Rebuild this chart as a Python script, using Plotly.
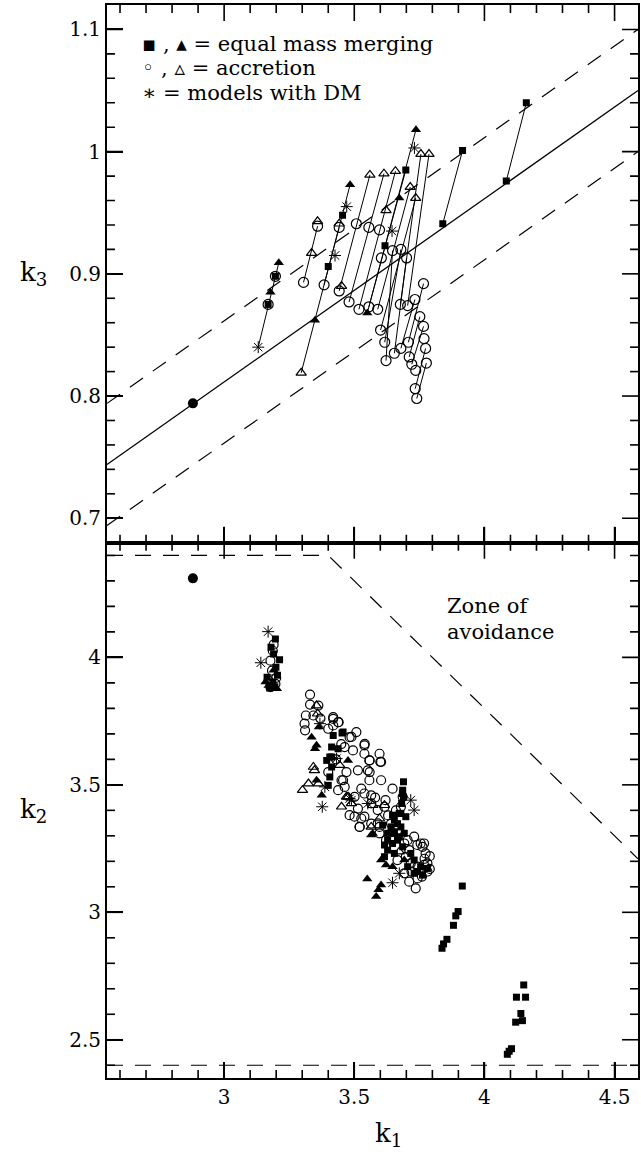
import plotly.graph_objects as go

# ---------------- axis ranges and ticks ----------------
k1_range = [2.55, 4.59]
k3_range = [0.68, 1.12]
k2_range = [2.35, 4.45]

k1_major = [3.0, 3.5, 4.0, 4.5]
k3_major = [0.7, 0.8, 0.9, 1.0, 1.1]
k2_major = [2.5, 3.0, 3.5, 4.0]
k1_minor_step, k3_minor_step, k2_minor_step = 0.1, 0.02, 0.1

# ---------------- top panel (k1 vs k3) ----------------
top_sq_k1 = [3.455, 3.400, 3.698, 3.618, 3.840, 3.916, 4.084, 4.161, 3.169, 3.197]
top_sq_k3 = [0.948, 0.906, 0.985, 0.923, 0.941, 1.001, 0.976, 1.040, 0.875, 0.898]

top_trif_k1 = [3.210, 3.178, 3.484, 3.349, 3.550, 3.673, 3.737]
top_trif_k3 = [0.909, 0.885, 0.973, 0.862, 0.868, 0.962, 1.018]

top_trio_k1 = [3.359, 3.336, 3.442, 3.451, 3.296, 3.560, 3.614, 3.658, 3.622, 3.715, 3.736, 3.756, 3.787]
top_trio_k3 = [0.943, 0.917, 0.941, 0.890, 0.819, 0.981, 0.982, 0.984, 0.952, 0.971, 0.962, 0.998, 0.998]

top_circ_k1 = [3.359, 3.442, 3.508, 3.556, 3.597, 3.305, 3.384, 3.442, 3.480, 3.518,
               3.556, 3.590, 3.647, 3.679, 3.701, 3.604, 3.766, 3.733, 3.705, 3.677,
               3.601, 3.752, 3.766, 3.768, 3.774, 3.777, 3.708, 3.679, 3.654, 3.617,
               3.622, 3.711, 3.721, 3.736, 3.734, 3.740, 3.169, 3.197]
top_circ_k3 = [0.939, 0.938, 0.941, 0.938, 0.936, 0.893, 0.891, 0.886, 0.877, 0.871,
               0.873, 0.871, 0.919, 0.920, 0.913, 0.913, 0.892, 0.879, 0.874, 0.875,
               0.854, 0.865, 0.857, 0.847, 0.839, 0.827, 0.844, 0.839, 0.835, 0.844,
               0.829, 0.832, 0.826, 0.821, 0.806, 0.798, 0.875, 0.898]

top_star_k1 = [3.131, 3.471, 3.426, 3.645, 3.731]
top_star_k3 = [0.840, 0.955, 0.915, 0.935, 1.003]

top_dot_k1 = [2.880]
top_dot_k3 = [0.794]

# connecting segments (start -> end)
seg_k1_a = [3.131, 3.305, 3.296, 3.384, 3.442, 3.480, 3.518, 3.556, 3.550, 3.840, 4.084,
            3.590, 3.601, 3.617, 3.654, 3.622, 3.679, 3.708, 3.711, 3.721, 3.734, 3.740,
            3.677, 3.705]
seg_k3_a = [0.840, 0.893, 0.819, 0.891, 0.886, 0.877, 0.871, 0.873, 0.868, 0.941, 0.976,
            0.871, 0.854, 0.844, 0.835, 0.829, 0.839, 0.844, 0.832, 0.826, 0.806, 0.798,
            0.875, 0.874]
seg_k1_b = [3.210, 3.359, 3.484, 3.442, 3.560, 3.614, 3.658, 3.698, 3.737, 3.916, 4.161,
            3.715, 3.736, 3.679, 3.701, 3.647, 3.733, 3.766, 3.752, 3.766, 3.774, 3.777,
            3.756, 3.787]
seg_k3_b = [0.909, 0.939, 0.973, 0.938, 0.981, 0.982, 0.984, 0.985, 1.018, 1.001, 1.040,
            0.971, 0.962, 0.920, 0.913, 0.919, 0.879, 0.892, 0.865, 0.857, 0.839, 0.827,
            0.998, 0.998]

# relation k3 = slope*k1 + icpt, with +/- band
fit_slope = 0.15
fit_icpt = 0.3615
fit_band = 0.05

# ---------------- bottom panel (k1 vs k2) ----------------
bot_dot_k1 = [2.880]
bot_dot_k2 = [4.310]

bot_sq_k1 = [3.197, 3.213, 3.190, 3.199, 3.165, 3.187, 3.180, 3.205, 3.175, 3.195,
             3.419, 3.453, 3.413, 3.438, 3.406, 3.413, 3.406, 3.400, 3.394, 3.457, 3.413,
             3.689, 3.685, 3.682, 3.679, 3.666, 3.654, 3.628, 3.666,
             3.686, 3.689, 3.673, 3.654, 3.641, 3.628, 3.654, 3.679, 3.673, 3.647,
             3.628, 3.616, 3.654, 3.686, 3.717, 3.730, 3.755, 3.730, 3.762, 3.705,
             3.781, 3.743, 3.609, 3.647, 3.616, 3.692, 3.698,
             3.915, 3.899, 3.890, 3.881, 3.856, 3.843, 3.837,
             4.151, 4.123, 4.158, 4.140, 4.120, 4.146, 4.104, 4.088, 4.095]
bot_sq_k2 = [4.072, 3.991, 4.013, 3.961, 3.922, 3.903, 4.040, 3.930, 3.880, 3.885,
             3.694, 3.703, 3.648, 3.642, 3.609, 3.570, 3.531, 3.498, 3.596, 3.707, 3.609,
             3.512, 3.466, 3.427, 3.388, 3.348, 3.309, 3.283, 3.283,
             3.479, 3.453, 3.388, 3.362, 3.335, 3.310, 3.316, 3.335, 3.296, 3.270,
             3.244, 3.218, 3.231, 3.257, 3.231, 3.205, 3.179, 3.153, 3.146, 3.179,
             3.172, 3.160, 3.342, 3.381, 3.264, 3.310, 3.375,
             3.103, 3.003, 2.986, 2.949, 2.894, 2.876, 2.859,
             2.715, 2.667, 2.667, 2.603, 2.569, 2.575, 2.465, 2.443, 2.455]

bot_trif_k1 = [3.171, 3.203, 3.159, 3.190,
               3.364, 3.336, 3.355, 3.349, 3.355, 3.375, 3.476, 3.571,
               3.565, 3.622, 3.550, 3.603, 3.593, 3.584, 3.603, 3.692, 3.647]
bot_trif_k2 = [3.890, 3.877, 3.903, 3.950,
               3.727, 3.687, 3.655, 3.642, 3.518, 3.459, 3.596, 3.309,
               3.303, 3.186, 3.131, 3.107, 3.088, 3.062, 3.205, 3.205, 3.179]

bot_trio_k1 = [3.355, 3.359, 3.343, 3.347, 3.301, 3.324, 3.362, 3.444, 3.451, 3.470,
               3.571, 3.616, 3.489, 3.476, 3.597, 3.565, 3.673]
bot_trio_k2 = [3.811, 3.779, 3.570, 3.557, 3.479, 3.505, 3.505, 3.577, 3.414, 3.453,
               3.420, 3.420, 3.427, 3.453, 3.368, 3.335, 3.238]

bot_star_k1 = [3.169, 3.141, 3.377, 3.387, 3.432, 3.730, 3.717, 3.368, 3.482,
               3.647, 3.673, 3.552, 3.489]
bot_star_k2 = [4.101, 3.979, 3.414, 3.492, 3.603, 3.401, 3.440, 3.740, 3.446,
               3.116, 3.153, 3.427, 3.440]

bot_circ_k1 = [3.187, 3.178, 3.184, 3.171, 3.197, 3.178, 3.190, 3.200,
               3.330, 3.330, 3.362, 3.314, 3.309, 3.311, 3.343, 3.419, 3.440, 3.419,
               3.508, 3.482, 3.463, 3.495, 3.539, 3.539, 3.558, 3.597, 3.600, 3.514,
               3.552, 3.451, 3.463, 3.527, 3.558, 3.603, 3.647, 3.501, 3.539, 3.565,
               3.514, 3.482, 3.501, 3.539, 3.590, 3.616, 3.520, 3.565, 3.597, 3.641,
               3.666, 3.730, 3.641, 3.692, 3.742, 3.768,
               3.419, 3.438, 3.489, 3.540, 3.603, 3.559, 3.559, 3.457, 3.438, 3.565,
               3.521, 3.527, 3.590, 3.679, 3.686, 3.622, 3.597, 3.711, 3.755, 3.774,
               3.768, 3.781, 3.743, 3.711, 3.736, 3.781, 3.692, 3.666, 3.743, 3.717,
               3.762, 3.698, 3.705,
               3.370, 3.400, 3.450, 3.430, 3.470, 3.400, 3.580, 3.620, 3.630, 3.660,
               3.790, 3.790, 3.760, 3.770, 3.720]
bot_circ_k2 = [4.026, 3.987, 3.948, 3.909, 3.896, 3.883, 4.050, 3.920,
               3.854, 3.815, 3.811, 3.772, 3.740, 3.714, 3.772, 3.759, 3.746, 3.733,
               3.707, 3.687, 3.648, 3.635, 3.655, 3.622, 3.596, 3.622, 3.590, 3.557,
               3.557, 3.518, 3.492, 3.485, 3.518, 3.518, 3.485, 3.453, 3.466, 3.427,
               3.407, 3.381, 3.375, 3.375, 3.401, 3.414, 3.335, 3.348, 3.335, 3.348,
               3.323, 3.297, 3.290, 3.270, 3.264, 3.270,
               3.766, 3.746, 3.688, 3.661, 3.590, 3.596, 3.550, 3.518, 3.479, 3.459,
               3.335, 3.368, 3.349, 3.414, 3.453, 3.283, 3.310, 3.244, 3.270, 3.231,
               3.186, 3.160, 3.133, 3.120, 3.094, 3.192, 3.153, 3.205, 3.179, 3.192,
               3.257, 3.218, 3.283,
               3.760, 3.720, 3.660, 3.600, 3.550, 3.550, 3.450, 3.440, 3.380, 3.400,
               3.220, 3.170, 3.140, 3.210, 3.160]

# zone of avoidance boundary and lower limit
zone_k1 = [2.55, 3.40, 4.59]
zone_k2 = [4.40, 4.40, 3.21]
floor_k2 = 2.40

# ---------------- figure ----------------
W, H = 641, 1157
ML, MR, MT, MB = 107, 1, 5, 79
PW, PH = W - ML - MR, H - MT - MB
SPLIT = 0.4989
TOP_H = (1 - SPLIT) * PH
BOT_H = SPLIT * PH
SERIF = "DejaVu Serif"
MAJ_LEN, MIN_LEN = 16, 8
TICK_W = 1.6

PX_K1 = PW / (k1_range[1] - k1_range[0])
PX_K3 = TOP_H / (k3_range[1] - k3_range[0])
PX_K2 = BOT_H / (k2_range[1] - k2_range[0])


def px_x(px):
    return (px - ML) / PW


def px_y(py):
    return (H - MB - py) / PH


def minor_vals(rng, step, majors):
    out = []
    n0 = int(rng[0] / step) + 1
    n1 = int(rng[1] / step)
    for n in range(n0, n1 + 1):
        v = round(n * step, 4)
        if all(abs(v - m) > 1e-6 for m in majors) and rng[0] < v < rng[1]:
            out.append(v)
    return out


fig = go.Figure()


def add_pts(xs, ys, symbol, size, xa, ya, filled, lw=1.2):
    if filled:
        marker = dict(symbol=symbol, size=size, color="black", line=dict(width=0))
    else:
        marker = dict(symbol=symbol, size=size, color="black",
                      line=dict(width=lw, color="black"))
    fig.add_trace(go.Scatter(x=xs, y=ys, mode="markers", marker=marker,
                             xaxis=xa, yaxis=ya, showlegend=False, hoverinfo="skip"))


def add_line(xs, ys, xa, ya, dash="solid", width=1.2):
    fig.add_trace(go.Scatter(x=xs, y=ys, mode="lines",
                             line=dict(color="black", width=width, dash=dash),
                             xaxis=xa, yaxis=ya, showlegend=False, hoverinfo="skip"))


DASH = "16px,12px"

# top panel reference lines
fx = [k1_range[0], k1_range[1]]
add_line(fx, [fit_slope * v + fit_icpt for v in fx], "x2", "y2", width=1.3)
add_line(fx, [fit_slope * v + fit_icpt + fit_band for v in fx], "x2", "y2", dash=DASH)
add_line(fx, [fit_slope * v + fit_icpt - fit_band for v in fx], "x2", "y2", dash=DASH)

# segments
sx, sy = [], []
for a, b, c, d in zip(seg_k1_a, seg_k3_a, seg_k1_b, seg_k3_b):
    sx += [a, c, None]
    sy += [b, d, None]
add_line(sx, sy, "x2", "y2", width=1.0)

add_pts(top_circ_k1, top_circ_k3, "circle-open", 10, "x2", "y2", False)
add_pts(top_trio_k1, top_trio_k3, "triangle-up-open", 9, "x2", "y2", False)
add_pts(top_sq_k1, top_sq_k3, "square", 7, "x2", "y2", True)
add_pts(top_trif_k1, top_trif_k3, "triangle-up", 9, "x2", "y2", True)
add_pts(top_star_k1, top_star_k3, "asterisk-open", 10, "x2", "y2", False, lw=1.0)
add_pts(top_dot_k1, top_dot_k3, "circle", 10, "x2", "y2", True)

# bottom panel lines
add_line(zone_k1, zone_k2, "x", "y", dash=DASH)
add_line([k1_range[0], k1_range[1]], [floor_k2, floor_k2], "x", "y", dash=DASH)

add_pts(bot_circ_k1, bot_circ_k2, "circle-open", 9, "x", "y", False)
add_pts(bot_trio_k1, bot_trio_k2, "triangle-up-open", 9, "x", "y", False)
add_pts(bot_sq_k1, bot_sq_k2, "square", 7, "x", "y", True)
add_pts(bot_trif_k1, bot_trif_k2, "triangle-up", 9, "x", "y", True)
add_pts(bot_star_k1, bot_star_k2, "asterisk-open", 10, "x", "y", False, lw=1.0)
add_pts(bot_dot_k1, bot_dot_k2, "circle", 10, "x", "y", True)


# ---------------- tick marks on all four sides of both panels ----------------
def tick_trace(xa, ya, xr, yr, px_x_unit, px_y_unit, xmaj, xmin, ymaj, ymin):
    tx, ty = [], []
    for vals, L in ((xmaj, MAJ_LEN), (xmin, MIN_LEN)):
        d = L / px_y_unit
        for v in vals:
            tx += [v, v, None, v, v, None]
            ty += [yr[0], yr[0] + d, None, yr[1], yr[1] - d, None]
    for vals, L in ((ymaj, MAJ_LEN), (ymin, MIN_LEN)):
        d = L / px_x_unit
        for v in vals:
            tx += [xr[0], xr[0] + d, None, xr[1], xr[1] - d, None]
            ty += [v, v, None, v, v, None]
    add_line(tx, ty, xa, ya, width=TICK_W)


k1_minor = minor_vals(k1_range, k1_minor_step, k1_major)
k3_minor = minor_vals(k3_range, k3_minor_step, k3_major)
k2_minor = minor_vals(k2_range, k2_minor_step, k2_major)

tick_trace("x2", "y2", k1_range, k3_range, PX_K1, PX_K3, k1_major, k1_minor, k3_major, k3_minor)
tick_trace("x", "y", k1_range, k2_range, PX_K1, PX_K2, k1_major, k1_minor, k2_major, k2_minor)

tickfont = dict(family=SERIF, size=20, color="black")


def axis(**kw):
    d = dict(showline=True, linecolor="black", linewidth=2, mirror=True,
             ticks="inside", ticklen=MAJ_LEN, tickwidth=TICK_W, tickcolor="black",
             showgrid=False, zeroline=False, tickfont=tickfont)
    d.update(kw)
    return d


fig.update_layout(
    width=W, height=H,
    margin=dict(l=ML, r=MR, t=MT, b=MB, pad=0),
    paper_bgcolor="white", plot_bgcolor="white",
    showlegend=False,
    xaxis=axis(range=k1_range, domain=[0, 1], anchor="y",
               tickmode="array", tickvals=k1_major),
    yaxis=axis(range=k2_range, domain=[0, SPLIT], anchor="x",
               tickmode="array", tickvals=k2_major),
    xaxis2=axis(range=k1_range, domain=[0, 1], anchor="y2", matches="x",
                tickmode="array", tickvals=k1_major, showticklabels=False),
    yaxis2=axis(range=k3_range, domain=[SPLIT, 1], anchor="x2",
                tickmode="array", tickvals=k3_major),
)

annots = [
    ("\u25aa , \u25b4 = equal mass merging", 140, 44, "left", 21),
    ("\u25e6 , \u25b5 = accretion", 140, 68, "left", 21),
    ("\u2217 = models with DM", 140, 93, "left", 21),
    ("Zone of", 446, 606, "left", 21),
    ("avoidance", 446, 632, "left", 21),
    ("k<sub>3</sub>", 33, 274, "center", 26),
    ("k<sub>2</sub>", 33, 810, "center", 26),
    ("k<sub>1</sub>", 390, 1134, "center", 26),
]
for txt, x, y, anc, fs in annots:
    fig.add_annotation(text=txt, x=px_x(x), y=px_y(y), xref="paper", yref="paper",
                       xanchor=anc, yanchor="middle", showarrow=False,
                       font=dict(family=SERIF, size=fs, color="black"))

fig.write_html("out.html", config={"displayModeBar": False},
               post_script="document.body.style.margin='0px';")
